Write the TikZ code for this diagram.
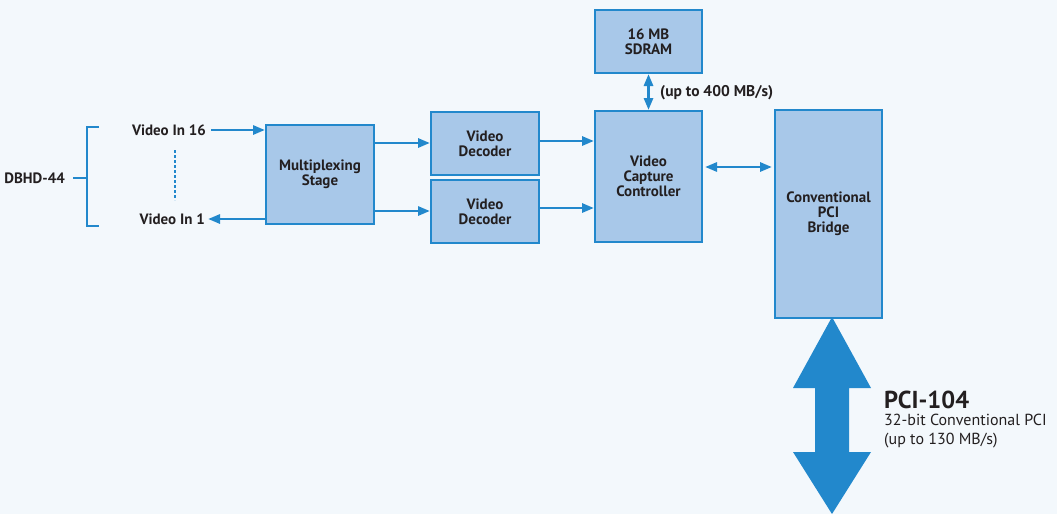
\documentclass[tikz,border=0pt]{standalone}
\usepackage{fontspec}
\setmainfont{PT Sans}
\usetikzlibrary{arrows.meta}
\definecolor{bg}{HTML}{F3F8FC}
\definecolor{boxfill}{HTML}{A8C8E9}
\definecolor{blueline}{HTML}{2288CC}
\definecolor{txt}{HTML}{231F20}
\begin{document}
\begin{tikzpicture}[x=1pt,y=-1pt,
  blk/.style={draw=blueline,line width=2pt,fill=boxfill,inner sep=0pt,align=center,
    font=\fontsize{15}{15}\selectfont\bfseries,text=txt},
  conn/.style={draw=blueline,line width=2.8pt,-{Triangle[length=12pt,width=9pt]}},
  bconn/.style={draw=blueline,line width=2.8pt,{Triangle[length=12pt,width=9pt]}-{Triangle[length=12pt,width=9pt]}},
  lbl/.style={font=\fontsize{15}{15}\selectfont\bfseries,text=txt,inner sep=0pt}]
\fill[bg] (0,0) rectangle (1057,514);
\useasboundingbox (0,0) rectangle (1057,514);
% boxes
\node[blk,minimum width=108pt,minimum height=99pt] (mux) at (320,174.5) {Multiplexing\\Stage};
\node[blk,minimum width=108pt,minimum height=63pt] (dec1) at (485,143.5) {Video\\Decoder};
\node[blk,minimum width=108pt,minimum height=63pt] (dec2) at (485,211.5) {Video\\Decoder};
\node[blk,minimum width=107pt,minimum height=63pt] (sdram) at (648.5,41.5) {16 MB\\SDRAM};
\node[blk,minimum width=107pt,minimum height=131pt] (vcc) at (648.5,176.5) {Video\\Capture\\Controller};
\node[blk,minimum width=107pt,minimum height=208pt] (pci) at (828.5,214) {Conventional\\PCI\\Bridge};
% labels
\node[lbl,anchor=east] (vin16) at (206,130) {Video In 16};
\node[lbl,anchor=east] (vin1) at (205,219) {Video In 1};
\node[lbl,anchor=east] (dbhd) at (65,178) {DBHD-44};
\node[lbl,anchor=west,font=\fontsize{15.5}{15}\selectfont\bfseries] (bw) at (660,93) {(up to 400 MB/s)};
\node[font=\fontsize{24.5}{26}\selectfont\bfseries,text=txt,anchor=west,inner sep=0pt] (pci104) at (884,400) {PCI-104};
\node[lbl,anchor=north west,align=left,font=\fontsize{16}{18.5}\selectfont] (pcitxt) at (884,414) {32-bit Conventional PCI\\(up to 130 MB/s)};
% bracket
\coordinate (bt) at (99,127);
\coordinate (bb) at (99,226);
\draw[blueline,line width=2.8pt] (bt) -- (87,127) -- (87,226) -- (bb);
\draw[blueline,line width=2.8pt] (dbhd.east) ++(8,0) -- (87,178);
% dotted
\coordinate (dtop) at (175,150);
\coordinate (dbot) at (175,200);
\draw[blueline,line width=2.8pt,dash pattern=on 2.5pt off 2.5pt] (dtop) -- (dbot);
% connectors
\draw[conn] (vin16.east) ++(5,0) -- (mux.west |- vin16.east);
\draw[conn] (mux.west |- 0,219) -- ([xshift=3pt]vin1.east);
\draw[conn] (mux.east |- 0,143) -- (dec1.west |- 0,143);
\draw[conn] (mux.east |- 0,211) -- (dec2.west |- 0,211);
\draw[conn] (dec1.east |- 0,141) -- (vcc.west |- 0,141);
\draw[conn] (dec2.east |- 0,208) -- (vcc.west |- 0,208);
\draw[bconn] (sdram.south) -- (vcc.north);
\draw[bconn] ([xshift=2pt]vcc.east |- 0,167) -- ([xshift=-2pt]pci.west |- 0,167);
% big arrow
\fill[blueline] ([yshift=2pt]pci.south -| 832,0) -- (871,388) -- (849,388) -- (849,452) -- (871,452) -- (832,514) -- (793,452) -- (815,452) -- (815,388) -- (793,388) -- cycle;
\end{tikzpicture}
\end{document}
